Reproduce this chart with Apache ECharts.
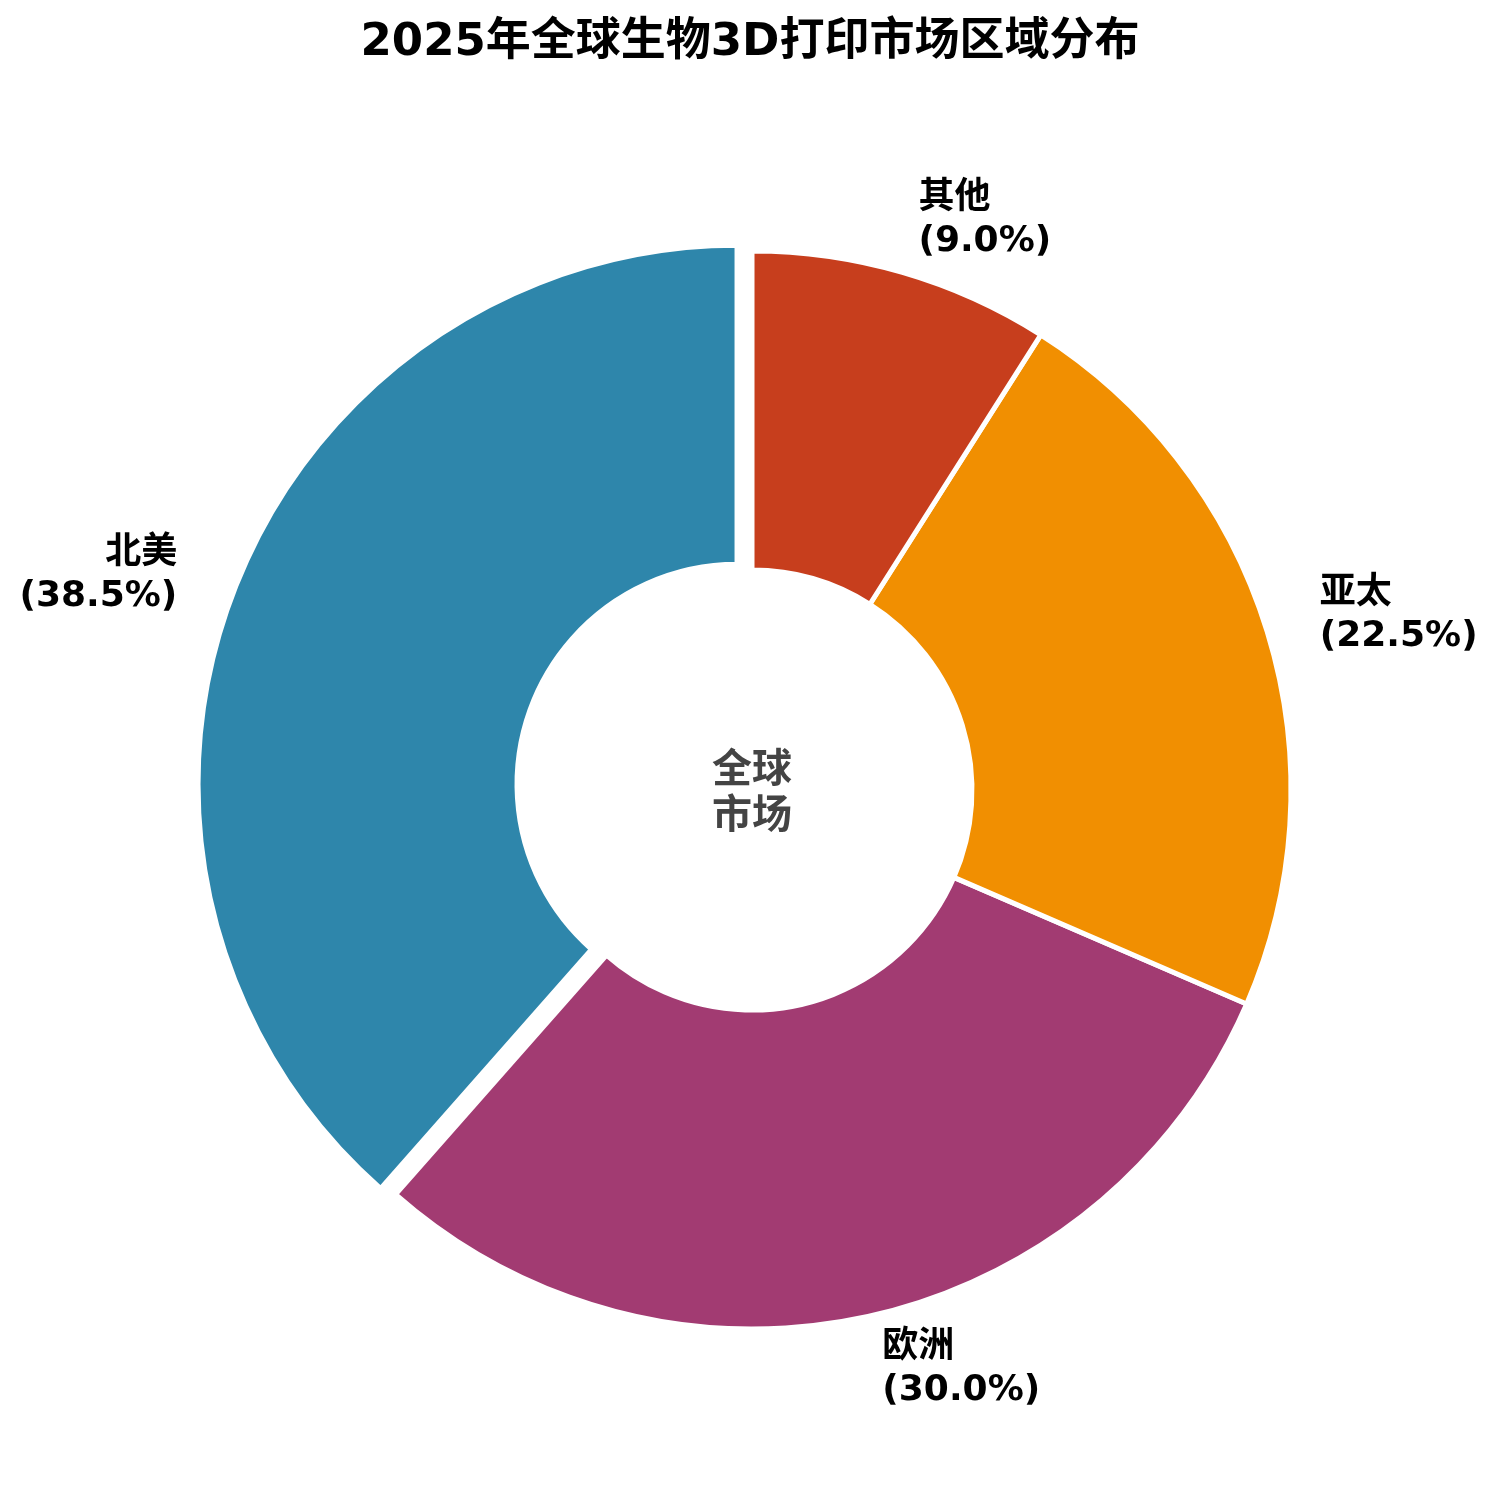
<!DOCTYPE html>
<html>
<head>
<meta charset="utf-8">
<script src="https://cdn.jsdelivr.net/npm/echarts@6/dist/echarts.min.js"></script>
<style>
html,body{margin:0;padding:0;background:#fff;}
#chart{width:1500px;height:1489px;}
</style>
</head>
<body>
<div id="chart"></div>
<script>
const regions = ['北美', '欧洲', '亚太', '其他'];
const shares = [38.5, 30.0, 22.5, 9.0];
const colors = ['#2E86AB', '#A23B72', '#F18F01', '#C73E1D'];
const explodedRegion = '北美';
const titleText = '2025年全球生物3D打印市场区域分布';
const centerText = '全球\n市场';

const FONT = "'DejaVu Sans', 'Noto Sans CJK SC', sans-serif";

const chart = echarts.init(document.getElementById('chart'), null, {renderer: 'canvas'});
const R = 539;
const CX = 752, CY = 790;
chart.setOption({
  backgroundColor: '#ffffff',
  animation: false,
  title: {
    text: titleText,
    left: 'center',
    top: 16,
    textStyle: {fontFamily: FONT, fontWeight: 'bold', fontSize: 45, color: '#000'}
  },
  graphic: [{
    type: 'text',
    x: CX,
    y: CY,
    style: {
      text: centerText,
      fontFamily: "'Noto Sans CJK SC', sans-serif",
      fontWeight: 'bold',
      fontSize: 40,
      lineHeight: 46,
      fill: '#444444',
      align: 'center',
      verticalAlign: 'middle'
    }
  }],
  series: [{
    type: 'pie',
    center: [CX, CY],
    radius: [220, R],
    startAngle: 90,
    clockwise: false,
    avoidLabelOverlap: false,
    selectedMode: 'single',
    selectedOffset: 16,
    itemStyle: {borderColor: '#ffffff', borderWidth: 5},
    label: {
      show: true,
      position: 'outside',
      formatter: function (p) { return p.name + '\n(' + p.value.toFixed(1) + '%)'; },
      fontFamily: FONT,
      fontWeight: 'bold',
      fontSize: 36,
      lineHeight: 43,
      color: '#000'
    },
    labelLayout: function (params) {
      return params.align === 'left' ? {dx: -4} : {dx: 0};
    },
    labelLine: {show: false, length: 54, length2: 0},
    emphasis: {disabled: true},
    data: regions.map((r, i) => ({
      name: r,
      value: shares[i],
      selected: r === explodedRegion,
      itemStyle: {color: colors[i]}
    }))
  }]
});
</script>
</body>
</html>
